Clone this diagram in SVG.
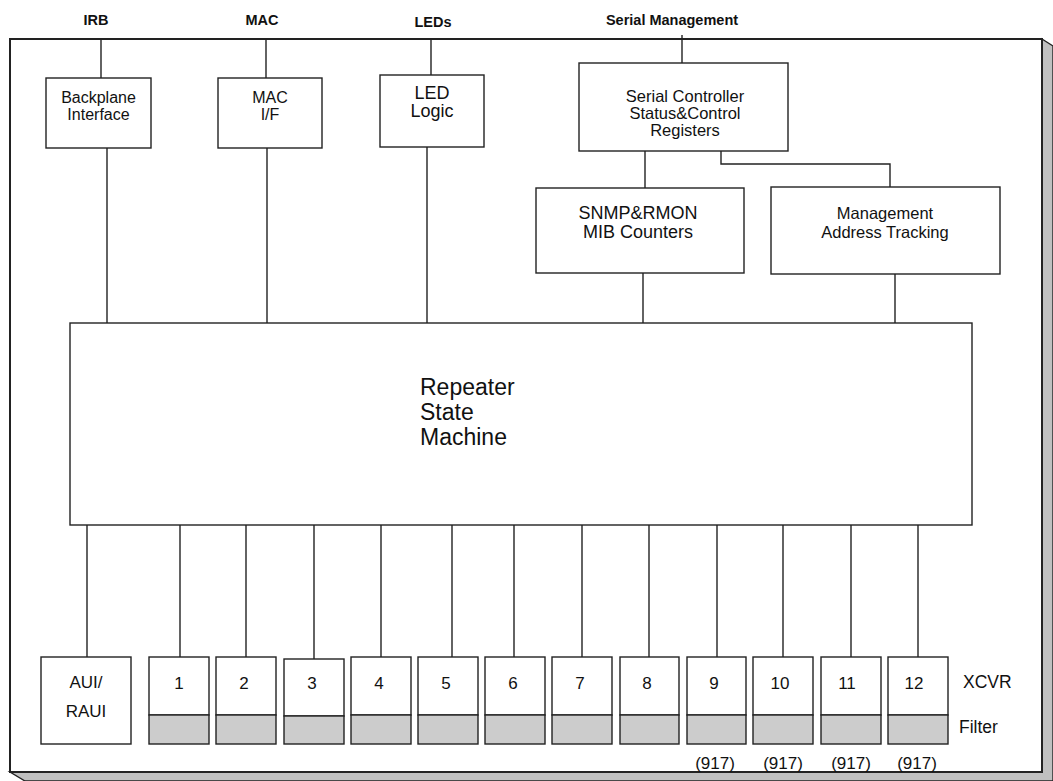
<svg xmlns="http://www.w3.org/2000/svg" width="1053" height="781" viewBox="0 0 1053 781">
<style>
.box{fill:#fff;stroke:#222;stroke-width:1.4}
.flt{fill:#ccc;stroke:#222;stroke-width:1.4}
.ln{stroke:#222;stroke-width:1.4;fill:none}
text{font-family:"Liberation Sans",Arial,sans-serif;fill:#111}
.hdr{font-size:14.5px;font-weight:bold;text-anchor:middle}
.lbl{font-size:16px;text-anchor:middle}
.num{font-size:17px;text-anchor:middle}
</style>
<rect width="1053" height="781" fill="#fff"/>
<g id="frame">
<polygon points="1042,39 1053,46 1053,781 25,781 10,772 1042,772" fill="#c0c0c0" stroke="#222" stroke-width="1.4"/>
<rect x="10" y="39" width="1032" height="733" fill="#fff" stroke="#222" stroke-width="2"/>
</g>
<g id="labels-top">
<text class="hdr" x="96" y="25">IRB</text>
<text class="hdr" x="262" y="25">MAC</text>
<text class="hdr" x="433" y="27">LEDs</text>
<text class="hdr" x="672" y="25">Serial Management</text>
</g>
<g id="connectors">
<line class="ln" x1="101" y1="39" x2="101" y2="78"/>
<line class="ln" x1="266" y1="39" x2="266" y2="78"/>
<line class="ln" x1="431" y1="39" x2="431" y2="75"/>
<line class="ln" x1="682" y1="35" x2="682" y2="63"/>
<line class="ln" x1="107" y1="148" x2="107" y2="323"/>
<line class="ln" x1="267" y1="148" x2="267" y2="323"/>
<line class="ln" x1="427" y1="147" x2="427" y2="323"/>
<line class="ln" x1="645" y1="151" x2="645" y2="188"/>
<polyline class="ln" points="721,151 721,164 890,164 890,187"/>
<line class="ln" x1="643" y1="273" x2="643" y2="323"/>
<line class="ln" x1="895" y1="274" x2="895" y2="323"/>
<line class="ln" x1="87" y1="525" x2="87" y2="657"/>
<line class="ln" x1="180" y1="525" x2="180" y2="657"/>
<line class="ln" x1="246" y1="525" x2="246" y2="657"/>
<line class="ln" x1="314" y1="525" x2="314" y2="659"/>
<line class="ln" x1="381" y1="525" x2="381" y2="657"/>
<line class="ln" x1="452" y1="525" x2="452" y2="657"/>
<line class="ln" x1="514" y1="525" x2="514" y2="657"/>
<line class="ln" x1="582" y1="525" x2="582" y2="657"/>
<line class="ln" x1="649" y1="525" x2="649" y2="657"/>
<line class="ln" x1="717" y1="525" x2="717" y2="657"/>
<line class="ln" x1="783" y1="525" x2="783" y2="657"/>
<line class="ln" x1="851" y1="525" x2="851" y2="657"/>
<line class="ln" x1="918" y1="525" x2="918" y2="657"/>
</g>
<g id="backplane">
<rect class="box" x="46" y="78" width="105" height="70"/>
<text class="lbl" x="98.5" y="103">Backplane</text>
<text class="lbl" x="98.5" y="120">Interface</text>
</g>
<g id="mac-if">
<rect class="box" x="218" y="78" width="104" height="70"/>
<text class="lbl" x="270" y="103">MAC</text>
<text class="lbl" x="270" y="120">I/F</text>
</g>
<g id="led-logic">
<rect class="box" x="380" y="75" width="104" height="72"/>
<text class="lbl" x="432" y="99" style="font-size:18px">LED</text>
<text class="lbl" x="432" y="117" style="font-size:18px">Logic</text>
</g>
<g id="serial-controller">
<rect class="box" x="579" y="63" width="209" height="88"/>
<text class="lbl" x="685" y="102" style="font-size:16.5px">Serial Controller</text>
<text class="lbl" x="685" y="119" style="font-size:16.5px">Status&amp;Control</text>
<text class="lbl" x="685" y="136" style="font-size:16.5px">Registers</text>
</g>
<g id="snmp">
<rect class="box" x="536" y="188" width="208" height="85"/>
<text class="lbl" x="638" y="219" style="font-size:18px">SNMP&amp;RMON</text>
<text class="lbl" x="638" y="238" style="font-size:18px">MIB Counters</text>
</g>
<g id="mgmt">
<rect class="box" x="771" y="187" width="229" height="87"/>
<text class="lbl" x="885" y="219" style="font-size:16.5px">Management</text>
<text class="lbl" x="885" y="238" style="font-size:16.5px">Address Tracking</text>
</g>
<g id="rsm">
<rect class="box" x="70" y="323" width="902" height="202"/>
<text x="420" y="395" style="font-size:23px">Repeater</text>
<text x="420" y="420" style="font-size:23px">State</text>
<text x="420" y="445" style="font-size:23px">Machine</text>
</g>
<g id="aui">
<rect class="box" x="41" y="657" width="90" height="87"/>
<text class="num" x="86" y="688">AUI/</text>
<text class="num" x="86" y="717">RAUI</text>
</g>
<g id="port1"><rect class="box" x="149" y="657" width="60" height="58"/><rect class="flt" x="149" y="715" width="60" height="29"/><text class="num" x="179" y="689">1</text></g>
<g id="port2"><rect class="box" x="216" y="657" width="60" height="58"/><rect class="flt" x="216" y="715" width="60" height="29"/><text class="num" x="244" y="689">2</text></g>
<g id="port3"><rect class="box" x="284" y="659" width="60" height="57"/><rect class="flt" x="284" y="716" width="60" height="28"/><text class="num" x="312" y="689">3</text></g>
<g id="port4"><rect class="box" x="351" y="657" width="60" height="58"/><rect class="flt" x="351" y="715" width="60" height="29"/><text class="num" x="379" y="689">4</text></g>
<g id="port5"><rect class="box" x="418" y="657" width="60" height="58"/><rect class="flt" x="418" y="715" width="60" height="29"/><text class="num" x="446" y="689">5</text></g>
<g id="port6"><rect class="box" x="485" y="657" width="60" height="58"/><rect class="flt" x="485" y="715" width="60" height="29"/><text class="num" x="513" y="689">6</text></g>
<g id="port7"><rect class="box" x="552" y="657" width="60" height="58"/><rect class="flt" x="552" y="715" width="60" height="29"/><text class="num" x="580" y="689">7</text></g>
<g id="port8"><rect class="box" x="620" y="657" width="59" height="58"/><rect class="flt" x="620" y="715" width="59" height="29"/><text class="num" x="647" y="689">8</text></g>
<g id="port9"><rect class="box" x="687" y="657" width="59" height="58"/><rect class="flt" x="687" y="715" width="59" height="29"/><text class="num" x="714" y="689">9</text><text class="num" x="715" y="769">(917)</text></g>
<g id="port10"><rect class="box" x="753" y="657" width="60" height="58"/><rect class="flt" x="753" y="715" width="60" height="29"/><text class="num" x="780" y="689">10</text><text class="num" x="783" y="769">(917)</text></g>
<g id="port11"><rect class="box" x="821" y="657" width="60" height="58"/><rect class="flt" x="821" y="715" width="60" height="29"/><text class="num" x="847" y="689">11</text><text class="num" x="851" y="769">(917)</text></g>
<g id="port12"><rect class="box" x="888" y="657" width="60" height="58"/><rect class="flt" x="888" y="715" width="60" height="29"/><text class="num" x="914" y="689">12</text><text class="num" x="917" y="769">(917)</text></g>
<g id="legend">
<text x="963" y="688" style="font-size:17.5px">XCVR</text>
<text x="959" y="733" style="font-size:17.5px">Filter</text>
</g>
</svg>
